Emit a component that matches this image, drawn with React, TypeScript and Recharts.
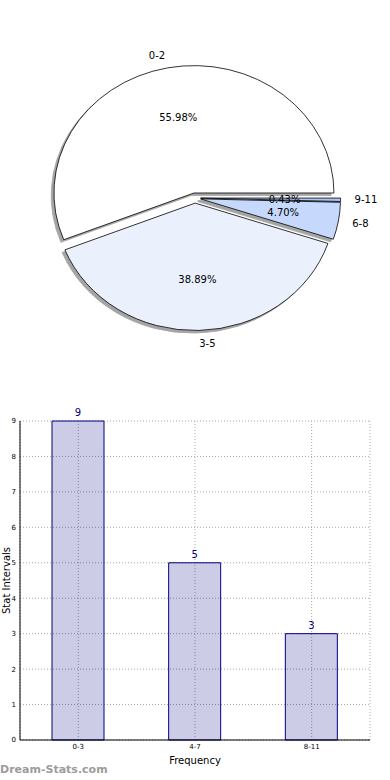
import { PieChart, Pie, BarChart, Bar, XAxis, YAxis, CartesianGrid, LabelList } from 'recharts';

const sliceNames = ['0-2', '3-5', '6-8', '9-11'];
const slicePercents = [55.98, 38.89, 4.7, 0.43];
const sliceColors = ['#ffffff', '#eaf1fd', '#c6d9fd', '#a9c4f5'];

const barCategories = ['0-3', '4-7', '8-11'];
const barValues = [9, 5, 3];
const yTicks = [0, 1, 2, 3, 4, 5, 6, 7, 8, 9];

// matplotlib pie is not aspect-equal, so slices are ellipses
const RY_RATIO = 0.91;
const EXPLODE = 0.04;
const RAD = Math.PI / 180;

const pieData = sliceNames.map((name, i) => ({ name, value: slicePercents[i], fill: sliceColors[i] }));
const barData = barCategories.map((cat, i) => ({ cat, value: barValues[i] }));

function explodeOffset(mid: number, rx: number, ry: number) {
  return { dx: EXPLODE * rx * Math.cos(mid * RAD), dy: -EXPLODE * ry * Math.sin(mid * RAD) };
}

function ellipsePath(cx: number, cy: number, rx: number, ry: number, start: number, end: number) {
  const p = (a: number) => [cx + rx * Math.cos(a * RAD), cy - ry * Math.sin(a * RAD)];
  const [x1, y1] = p(start);
  const [x2, y2] = p(end);
  const large = Math.abs(end - start) > 180 ? 1 : 0;
  const sweep = end > start ? 0 : 1;
  return `M${cx},${cy} L${x1},${y1} A${rx},${ry} 0 ${large} ${sweep} ${x2},${y2} Z`;
}

function SliceShape(props: any) {
  const { cx, cy, outerRadius, startAngle, endAngle, midAngle, fill } = props;
  const rx = outerRadius;
  const ry = outerRadius * RY_RATIO;
  const { dx, dy } = explodeOffset(midAngle, rx, ry);
  return (
    <path
      d={ellipsePath(cx + dx, cy + dy, rx, ry, startAngle, endAngle)}
      fill={fill}
      stroke="#000"
      strokeWidth={0.8}
      strokeLinejoin="round"
    />
  );
}

function ShadowShape(props: any) {
  const { cx, cy, outerRadius, startAngle, endAngle, midAngle } = props;
  const rx = outerRadius;
  const ry = outerRadius * RY_RATIO;
  const { dx, dy } = explodeOffset(midAngle, rx, ry);
  return (
    <path
      d={ellipsePath(cx + dx - 2.8, cy + dy + 2.6, rx, ry, startAngle, endAngle)}
      fill="#4d4d4d"
      stroke="#4d4d4d"
      strokeWidth={0.8}
      opacity={0.5}
    />
  );
}

function SliceLabel(props: any) {
  const { cx, cy, midAngle, outerRadius, name, value } = props;
  const rx = outerRadius;
  const ry = outerRadius * RY_RATIO;
  const { dx, dy } = explodeOffset(midAngle, rx, ry);
  const c = Math.cos(midAngle * RAD);
  const s = Math.sin(midAngle * RAD);
  const ox = cx + dx;
  const oy = cy + dy;
  return (
    <g>
      <text
        x={ox + 1.1 * rx * c}
        y={oy - 1.1 * ry * s}
        textAnchor={c > 0 ? 'start' : 'end'}
        dominantBaseline="central"
        fontSize={10}
        fill="#000"
      >
        {name}
      </text>
      <text
        x={ox + 0.6 * rx * c}
        y={oy - 0.6 * ry * s}
        textAnchor="middle"
        dominantBaseline="central"
        fontSize={10}
        fill="#000"
      >
        {Number(value).toFixed(2)}%
      </text>
    </g>
  );
}

export default function App() {
  return (
    <div
      style={{
        position: 'absolute',
        left: 0,
        top: 0,
        width: 390,
        height: 780,
        background: '#fff',
        fontFamily: '"DejaVu Sans", sans-serif',
        overflow: 'hidden',
      }}
    >
      <PieChart width={390} height={390} margin={{ top: 0, right: 0, bottom: 0, left: 0 }}>
        <Pie
          data={pieData}
          dataKey="value"
          nameKey="name"
          cx={195}
          cy={198}
          outerRadius={140}
          startAngle={0}
          endAngle={360}
          shape={ShadowShape}
          label={false}
          labelLine={false}
          isAnimationActive={false}
        />
        <Pie
          data={pieData}
          dataKey="value"
          nameKey="name"
          cx={195}
          cy={198}
          outerRadius={140}
          startAngle={0}
          endAngle={360}
          shape={SliceShape}
          label={SliceLabel}
          labelLine={false}
          isAnimationActive={false}
        />
      </PieChart>

      <div style={{ position: 'absolute', left: 0, top: 400 }}>
        <BarChart width={390} height={380} data={barData} margin={{ top: 21, right: 20, bottom: 0, left: 0 }}>
          <CartesianGrid stroke="#a8a8a8" strokeDasharray="1 2" />
          <XAxis
            dataKey="cat"
            height={40}
            tickLine={false}
            tickSize={2}
            tickMargin={2}
            axisLine={{ stroke: '#000' }}
            tick={{ fontSize: 7, fill: '#000' }}
            label={{ value: 'Frequency', position: 'insideBottom', offset: 16, fontSize: 10, fill: '#000' }}
          />
          <XAxis
            xAxisId="top"
            orientation="top"
            dataKey="cat"
            height={0}
            tick={false}
            tickLine={false}
            axisLine={{ stroke: '#000' }}
          />
          <YAxis
            domain={[0, 9]}
            ticks={yTicks}
            width={20}
            tickLine={false}
            tickSize={2}
            tickMargin={2}
            axisLine={{ stroke: '#000' }}
            tick={{ fontSize: 7, fill: '#000' }}
            label={{
              value: 'Stat Intervals',
              angle: -90,
              position: 'insideLeft',
              offset: 6,
              fontSize: 10,
              fill: '#000',
              style: { textAnchor: 'middle' },
            }}
          />
          <YAxis
            yAxisId="right"
            orientation="right"
            domain={[0, 9]}
            width={0}
            tick={false}
            tickLine={false}
            axisLine={{ stroke: '#000' }}
          />
          <Bar
            dataKey="value"
            fill="#000080"
            fillOpacity={0.2}
            stroke="#000080"
            strokeWidth={1}
            barSize={52}
            isAnimationActive={false}
          >
            <LabelList dataKey="value" position="top" offset={5} fill="#000080" fontSize={10} />
          </Bar>
        </BarChart>
      </div>

      <div
        style={{
          position: 'absolute',
          left: 0,
          top: 763,
          fontSize: 11,
          fontWeight: 'bold',
          color: '#9c9c9c',
          lineHeight: '14px',
        }}
      >
        Dream-Stats.com
      </div>
    </div>
  );
}
